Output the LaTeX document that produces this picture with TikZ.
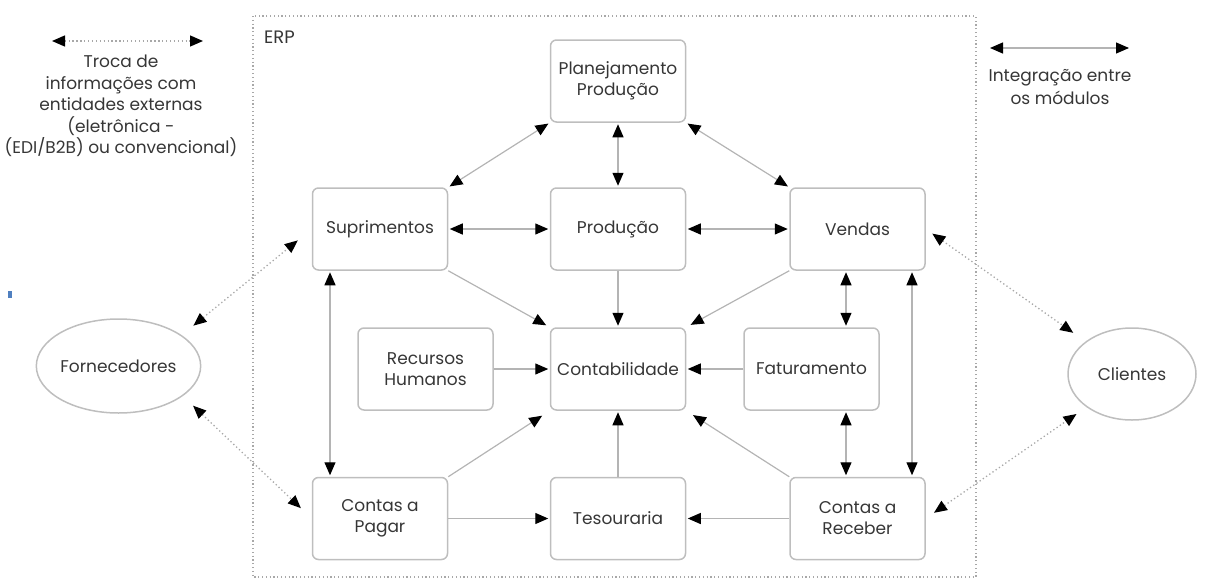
\documentclass[tikz,border=0pt]{standalone}
\usepackage{fontspec}
\setmainfont{Poppins}
\usetikzlibrary{arrows.meta,shapes.geometric,calc}
\definecolor{txt}{HTML}{363636}
\definecolor{edge}{HTML}{BEBEBE}
\definecolor{wire}{HTML}{B4B4B4}
\definecolor{dots}{HTML}{A8A8A8}
\definecolor{handleblue}{HTML}{5080C0}
\begin{document}
\begin{tikzpicture}[x=1pt,y=-1pt,
  blk/.tip={Triangle[length=13pt,width=11pt,color=black]},
  lbl/.style={text=txt, font=\fontsize{17}{21}\selectfont, inner sep=0pt},
  module/.style={lbl, draw=edge, line width=1.5pt, rounded corners=6pt,
    minimum width=135pt, minimum height=82pt, align=center},
  party/.style={lbl, ellipse, draw=edge, line width=1.5pt},
  one/.style={draw=wire, line width=1.2pt, -blk, shorten >=1.5pt},
  two/.style={draw=wire, line width=1.2pt, blk-blk, shorten >=1.5pt, shorten <=1.5pt},
  ext/.style={draw=dots, line width=1.3pt, dash pattern=on 1.3pt off 2.6pt, blk-blk},
]
\useasboundingbox (0,0) rectangle (1208,581);

% ERP boundary
\draw[draw=dots, line width=1.2pt, dash pattern=on 1.2pt off 2.6pt] (253,16) rectangle (976,577);
\node[lbl, anchor=west, font=\fontsize{18}{21}\selectfont] (erp) at (264,37) {ERP};

% legend: external exchange
\coordinate (la) at (52,41);
\coordinate (lb) at (203,41);
\draw[ext] (la) -- (lb);
\node[lbl, align=center, font=\fontsize{17}{21.5}\selectfont] (legext) at (121,106)
  {Troca de\\informações com\\entidades externas\\(eletrônica -\\(EDI/B2B) ou convencional)};

% legend: integration between modules
\coordinate (ra) at (990,48);
\coordinate (rb) at (1129,48);
\draw[draw=wire, line width=1.2pt, blk-blk] (ra) -- (rb);
\node[lbl, align=center, font=\fontsize{17}{23}\selectfont] (legint) at (1060,87)
  {Integração entre\\os módulos};

% small marker at the left edge
\fill[handleblue] (8,291) rectangle (12,298);

% modules
\node[module] (plan) at (618,81)    {Planejamento\\Produção};
\node[module] (sup)  at (380,229)   {Suprimentos};
\node[module] (prod) at (618,229)   {Produção};
\node[module] (vend) at (857.5,229) {Vendas};
\node[module] (rh)   at (425.5,369) {Recursos\\Humanos};
\node[module] (cont) at (618,369)   {Contabilidade};
\node[module] (fat)  at (811.5,369) {Faturamento};
\node[module] (pag)  at (380,518.5) {Contas a\\Pagar};
\node[module] (tes)  at (618,518.5) {Tesouraria};
\node[module] (rec)  at (857.5,518.5) {Contas a\\Receber};

% external parties
\node[party, minimum width=149pt, minimum height=94pt] (forn) at (118.5,366) {Fornecedores};
\node[party, minimum width=128pt, minimum height=92pt] (cli)  at (1132,374) {Clientes};

% integration between modules
\draw[two] (plan.south west) -- (sup.north east);
\draw[two] (plan) -- (prod);
\draw[two] (plan.south east) -- (vend.north west);
\draw[two] (sup) -- (prod);
\draw[two] (prod) -- (vend);
\draw[one, shorten >=4pt] (sup.south east) -- (cont.north west);
\draw[one] (prod) -- (cont);
\draw[one, shorten >=5pt] (vend.south west) -- (cont.north east);
\draw[one] (rh) -- (cont);
\draw[one] (fat) -- (cont);
\draw[two] ([xshift=-11.5pt]vend.south) -- ([xshift=-11.5pt]vend.south |- fat.north);
\draw[two] ([xshift=54.5pt]vend.south) -- ([xshift=54.5pt]rec.north);
\draw[two] ([xshift=-11.5pt]rec.north |- fat.south) -- ([xshift=-11.5pt]rec.north);
\draw[two] ([xshift=-50pt]sup.south) -- ([xshift=-50pt]pag.north);
\draw[one, shorten >=9pt] (pag.north east) -- (cont.south west);
\draw[one] (pag) -- (tes);
\draw[one] (tes) -- (cont);
\draw[one] (rec) -- (tes);
\draw[one, shorten >=8pt] (rec.north west) -- (cont.south east);

% exchange with external parties
\draw[ext, shorten <=15pt, shorten >=18pt] (forn.26) -- (sup.west);
\draw[ext, shorten <=14pt, shorten >=15pt] (forn.-25) -- (pag.west);
\draw[ext, shorten <=8pt, shorten >=15pt] (vend.east) -- (cli.145);
\draw[ext, shorten <=10pt, shorten >=12pt] (rec.east) -- (cli.216);
\end{tikzpicture}
\end{document}
